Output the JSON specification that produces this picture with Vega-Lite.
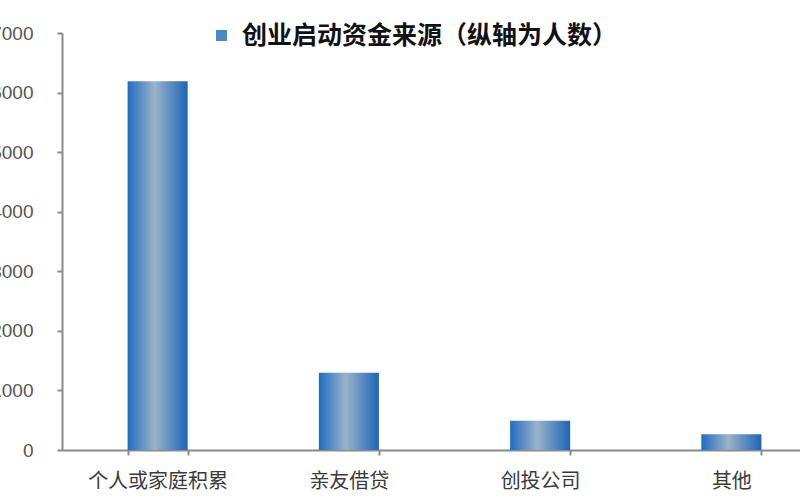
{
  "$schema": "https://vega.github.io/schema/vega-lite/v6.json",
  "autosize": {"type": "none"},
  "width": 738,
  "height": 417,
  "padding": {"left": 62, "top": 33, "right": 0, "bottom": 50},
  "background": "white",
  "data": {
    "values": [
      {"source": "个人或家庭积累", "people": 6190, "series": "创业启动资金来源（纵轴为人数）"},
      {"source": "亲友借贷", "people": 1295, "series": "创业启动资金来源（纵轴为人数）"},
      {"source": "创投公司", "people": 490, "series": "创业启动资金来源（纵轴为人数）"},
      {"source": "其他", "people": 265, "series": "创业启动资金来源（纵轴为人数）"}
    ]
  },
  "config": {
    "view": {"stroke": null},
    "axis": {"grid": false, "domainColor": "#8a8a8a", "domainWidth": 2, "tickColor": "#8a8a8a", "tickWidth": 2, "tickSize": 5, "title": null}
  },
  "layer": [
    {
      "mark": {
        "type": "bar",
        "color": {
          "gradient": "linear",
          "x1": 0, "y1": 0, "x2": 1, "y2": 0,
          "stops": [
            {"offset": 0, "color": "#1f6cc2"},
            {"offset": 0.45, "color": "#9ab3c8"},
            {"offset": 1, "color": "#1d65b9"}
          ]
        }
      },
      "encoding": {
        "x": {
          "field": "source",
          "type": "nominal",
          "sort": null,
          "scale": {"range": [0, 765], "paddingInner": 0.686, "paddingOuter": 0.343},
          "axis": {
            "labelAngle": 0,
            "labelFont": "Noto Sans CJK SC",
            "labelFontSize": 20,
            "labelColor": "#3a3a3a",
            "labelPadding": 16,
            "tickBand": "extent"
          }
        },
        "y": {
          "field": "people",
          "type": "quantitative",
          "scale": {"domain": [0, 7000], "nice": false},
          "axis": {
            "values": [0, 1000, 2000, 3000, 4000, 5000, 6000, 7000],
            "format": "d",
            "labelFont": "Liberation Sans",
            "labelFontSize": 19,
            "labelColor": "#555555",
            "labelPadding": 24
          }
        }
      }
    },
    {
      "mark": {"type": "point", "shape": "square", "filled": true, "opacity": 0},
      "encoding": {
        "color": {
          "field": "series",
          "type": "nominal",
          "scale": {"range": ["#4b86c6"]},
          "legend": {
            "orient": "none",
            "legendX": 147,
            "legendY": -10,
            "title": null,
            "symbolType": "square",
            "symbolSize": 120,
            "symbolOpacity": 1,
            "labelFont": "Noto Sans CJK SC",
            "labelFontSize": 25,
            "labelFontWeight": "bold",
            "labelColor": "#111111",
            "labelLimit": 600,
            "labelOffset": 8
          }
        }
      }
    }
  ]
}
